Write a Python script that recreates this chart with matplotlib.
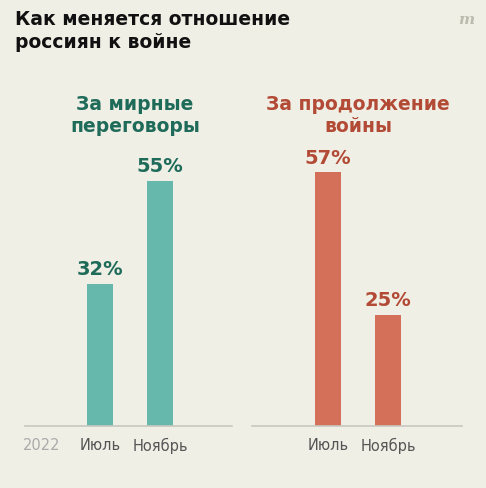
import matplotlib.pyplot as plt

months = ['Июль', 'Ноябрь']
peace = [32, 55]
war = [57, 25]

bg = '#f0efe6'
plt.rcParams['font.family'] = ['DejaVu Sans']

fig = plt.figure(figsize=(4.86, 4.89), dpi=100, facecolor=bg)

fig.text(15/486, 1-31/489, 'Как меняется отношение\nроссиян к войне', fontsize=13.5, fontweight='bold',
         va='center', ha='left', color='#111111', linespacing=1.3)
fig.text(466/486, 1-20/489, 'm', fontsize=11, fontstyle='italic', fontweight='bold', color='#bbbbb0',
         ha='center', va='center', family='serif')

panels = [
    (25, 207, peace, '#66b8ac', '#1f6b5a', 'За мирные\nпереговоры', 75, 110),
    (252, 210, war, '#d4705a', '#b24a36', 'За продолжение\nвойны', 76, 106),
]
for x0, w, vals, col, dark, head, c1, hx in panels:
    ax = fig.add_axes([x0/486, (489-427)/489, w/486, 267/489])
    ax.set_facecolor(bg)
    ax.set_xlim(0, w)
    ax.set_ylim(0, 60)
    xs = [c1, c1 + 60]
    ax.bar(xs, vals, width=26, color=col)
    for x, v in zip(xs, vals):
        ax.text(x, v + 1.3, f'{v}%', ha='center', va='bottom', fontsize=14, fontweight='bold', color=dark)
    ax.set_xticks(xs)
    ax.set_xticklabels(months, fontsize=10.5, color='#555555')
    ax.tick_params(length=0, pad=8)
    ax.set_yticks([])
    for s in ['top', 'right', 'left']:
        ax.spines[s].set_visible(False)
    ax.spines['bottom'].set_color('#c8c8c0')
    ax.spines['bottom'].set_linewidth(1.2)
    fig.text((x0 + hx)/486, 1-115/489, head, ha='center', va='center', fontsize=13.5,
             fontweight='bold', color=dark, linespacing=1.2)

fig.text(42/486, 1-446/489, '2022', ha='center', va='center', fontsize=10.5, color='#aaaaaa')

fig.savefig('out.png', dpi=100, facecolor=bg)
